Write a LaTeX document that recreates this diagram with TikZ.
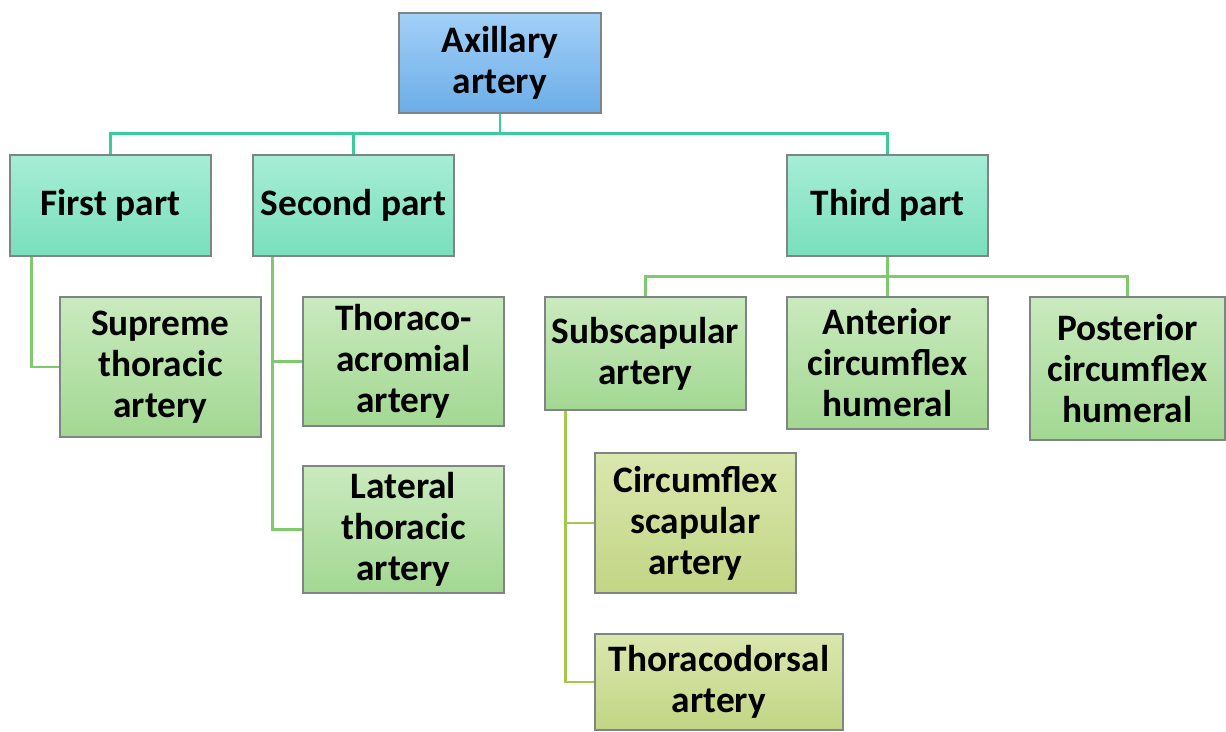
\documentclass[tikz,border=0pt]{standalone}
\usepackage{fontspec}
\setmainfont{Carlito}
\usetikzlibrary{positioning}
\definecolor{rootA}   {HTML}{A2D0F7}
\definecolor{rootB}   {HTML}{6CADE8}
\definecolor{partA}   {HTML}{A6EDD6}
\definecolor{partB}   {HTML}{79DFBD}
\definecolor{brA}     {HTML}{CAEABE}
\definecolor{brB}     {HTML}{A2D892}
\definecolor{twigA}   {HTML}{DAE7AE}
\definecolor{twigB}   {HTML}{C2D584}
\definecolor{frame}   {HTML}{7F8487}
\definecolor{teal}    {HTML}{3CCB9E}
\definecolor{leaf}    {HTML}{7DCB6C}
\definecolor{olive}   {HTML}{A4C84C}
\newlength\pxu
\setlength\pxu{0.75pt}
\tikzset{
  % --- boxes
  box/.style    = {draw=frame, line width=1pt, align=center, inner sep=2pt,
                   font=\bfseries\fontsize{28}{30.75}\selectfont,
                   minimum width=201\pxu},
  root/.style   = {box, top color=rootA, bottom color=rootB},
  part/.style   = {box, top color=partA, bottom color=partB},
  branch/.style = {box, top color=brA, bottom color=brB},
  twig/.style   = {box, top color=twigA, bottom color=twigB},
  % --- connectors
  trunk/.style  = {draw=teal, line width=1.8pt},
  limb/.style   = {draw=leaf, line width=1.8pt},
  sprig/.style  = {draw=olive, line width=1.8pt},
}
\begin{document}
\begin{tikzpicture}[x=1\pxu, y=-1\pxu]
  \useasboundingbox (0,0) rectangle (1226,731);

  \node[root, minimum width=202\pxu, minimum height=100\pxu] (axil) at (500,63) {Axillary\\artery};

  \node[part, minimum height=101\pxu] (first)  at (110.5,205.5) {First part};
  \node[part, minimum height=101\pxu] (second) at (353.5,205.5) {Second part};
  \node[part, minimum height=101\pxu] (third)  at (887.5,205.5) {Third part};

  \node[branch, minimum height=140\pxu] (supreme)  at (160.5,367)   {Supreme\\thoracic\\artery};
  \node[branch, minimum height=129\pxu] (thoraco)  at (403.5,361.5) {Thoraco-\\acromial\\artery};
  \node[branch, minimum height=127\pxu] (lateral)  at (403.5,529.5) {Lateral\\thoracic\\artery};
  \node[branch, minimum height=113\pxu] (subscap)  at (645.5,353.5) {Subscapular\\artery};
  \node[branch, minimum height=132\pxu] (anterior) at (887.5,363)   {Anterior\\circumflex\\humeral};
  \node[branch, minimum width=195\pxu, minimum height=143\pxu] (posterior) at (1127.5,368.5) {Posterior\\circumflex\\humeral};

  \node[twig, minimum height=140\pxu] (circscap) at (695.5,523) {Circumflex\\scapular\\artery};
  \node[twig, minimum width=248\pxu, minimum height=96\pxu] (thdors) at (719,682) {Thoracodorsal\\artery};

  % axillary to its three parts
  \foreach \n in {first,second,third}
    \draw[trunk] (axil.south) -- ++(0,20) -| (\n.north);

  % first and second part
  \draw[limb] (first.south west) ++(22,0) |- (supreme.west);
  \draw[limb] (second.south west) ++(20,0) |- (thoraco.west);
  \draw[limb] (second.south west) ++(20,0) |- (lateral.west);

  % third part
  \foreach \n in {subscap,anterior,posterior}
    \draw[limb] (third.south) -- ++(0,20) -| (\n.north);

  % subscapular
  \draw[sprig] (subscap.south west) ++(21,0) |- (circscap.west);
  \draw[sprig] (subscap.south west) ++(21,0) |- (thdors.west);
\end{tikzpicture}
\end{document}
